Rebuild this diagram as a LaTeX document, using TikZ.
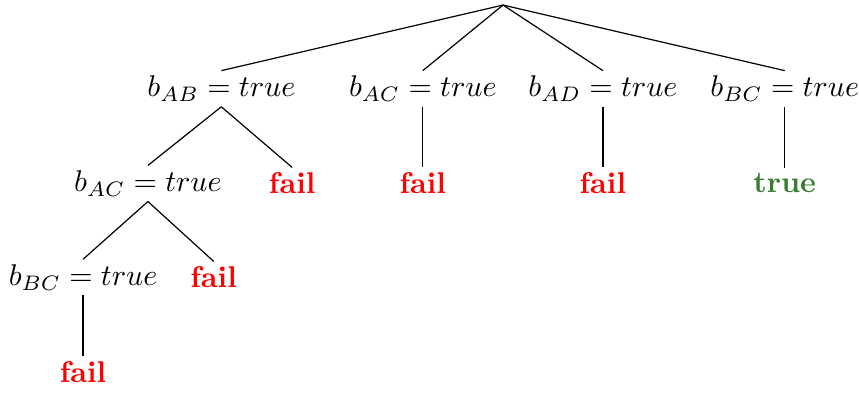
\documentclass[tikz,border=0pt]{standalone}
\usepackage{amsmath,amssymb}
\usepackage{xcolor}
\usetikzlibrary{positioning,calc}

\definecolor{truegreen}{RGB}{56,125,50}

\begin{document}
\begin{tikzpicture}[
  assign/.style={inner sep=1.6pt},
  failbox/.style={inner sep=1.6pt, text=red, font=\bfseries},
  okbox/.style={inner sep=1.6pt, text=truegreen, font=\bfseries},
  link/.style={thin}
]
\useasboundingbox (-5.893,0.059) rectangle (4.170,-4.534);

\coordinate (root) at (0,0);

% first choice
\node[assign] (ab)  at (-3.30,-0.98) {$b_{AB} = true$};
\node[assign] (ac)  at (-0.94,-0.98) {$b_{AC} = true$};
\node[assign] (ad)  at (1.17,-0.98)  {$b_{AD} = true$};
\node[assign] (bc)  at (3.30,-0.98)  {$b_{BC} = true$};

% second level
\node[assign]  (abac) at (-4.16,-2.09) {$b_{AC} = true$};
\node[failbox] (abf)  at (-2.47,-2.09) {fail};
\node[failbox] (acf)  at (-0.94,-2.09) {fail};
\node[failbox] (adf)  at (1.17,-2.09)  {fail};
\node[okbox]   (bct)  at (3.30,-2.09)  {true};

% third level
\node[assign]  (abacbc) at (-4.92,-3.19) {$b_{BC} = true$};
\node[failbox] (abacf)  at (-3.39,-3.19) {fail};

% fourth level
\node[failbox] (abacbcf) at (-4.92,-4.30) {fail};

\draw[link] (root) -- (ab.north);
\draw[link] (root) -- (ac.north);
\draw[link] (root) -- (ad.north);
\draw[link] (root) -- (bc.north);

\draw[link] (ab.south) -- (abac.north);
\draw[link] (ab.south) -- (abf.north);
\draw[link] (ac.south) -- (acf.north);
\draw[link] (ad.south) -- (adf.north);
\draw[link] (bc.south) -- (bct.north);

\draw[link] (abac.south) -- (abacbc.north);
\draw[link] (abac.south) -- (abacf.north);
\draw[link] (abacbc.south) -- (abacbcf.north);
\end{tikzpicture}
\end{document}
